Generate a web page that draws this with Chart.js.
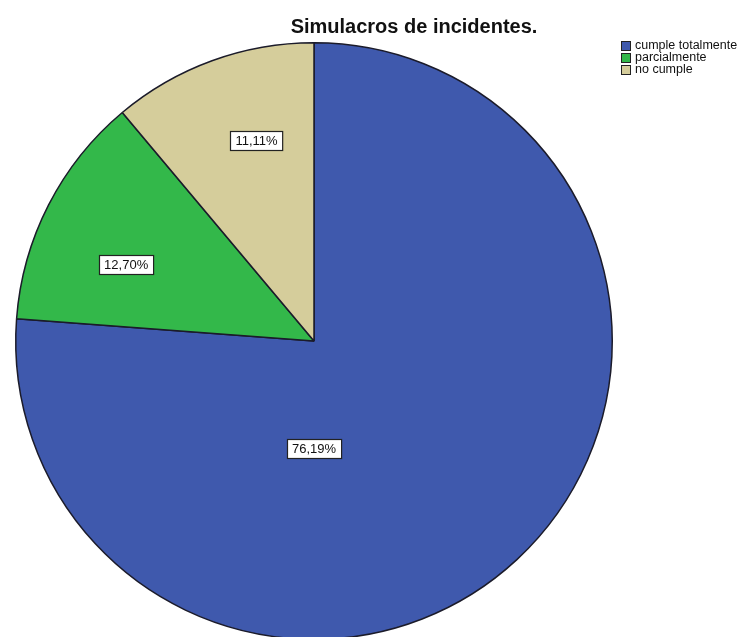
<!DOCTYPE html>
<html>
<head>
<meta charset="utf-8">
<script src="https://cdn.jsdelivr.net/npm/chart.js@4.4.1/dist/chart.umd.min.js"></script>
<style>
  html, body { margin: 0; padding: 0; background: #ffffff; overflow: hidden; }
  #wrap { position: relative; width: 750px; height: 650px; }
</style>
</head>
<body>
<div id="wrap"><canvas id="chart" width="750" height="650"></canvas></div>
<script>
// Survey answers for "Simulacros de incidentes."
const chartTitle = 'Simulacros de incidentes.';
const categories = ['cumple totalmente', 'parcialmente', 'no cumple'];
const percentages = [76.19, 12.70, 11.11];
const sliceColors = ['#3f59ad', '#33b84a', '#d5cd9b'];

const fmtPct = v => v.toFixed(2).replace('.', ',') + '%';

// Title and legend drawn on the canvas next to the pie
const titleLegendPlugin = {
  id: 'titleLegend',
  afterDraw(chart, args, opts) {
    const ctx = chart.ctx;
    ctx.save();
    ctx.fillStyle = '#111';
    ctx.font = 'bold 20px "Liberation Sans", Arial, sans-serif';
    ctx.textAlign = 'center';
    ctx.textBaseline = 'alphabetic';
    ctx.fillText(opts.text, opts.titleX, opts.titleY);

    ctx.font = '12.5px "Liberation Sans", Arial, sans-serif';
    ctx.textAlign = 'left';
    ctx.textBaseline = 'middle';
    const ds = chart.data.datasets[0];
    chart.data.labels.forEach((lab, i) => {
      const y = opts.legendY + i * opts.legendStep;
      ctx.fillStyle = ds.backgroundColor[i];
      ctx.fillRect(opts.legendX, y, opts.box, opts.box);
      ctx.strokeStyle = '#222';
      ctx.lineWidth = 1;
      ctx.strokeRect(opts.legendX + 0.5, y + 0.5, opts.box - 1, opts.box - 1);
      ctx.fillStyle = '#111';
      ctx.fillText(lab, opts.legendX + opts.box + 4, y + opts.box / 2);
    });
    ctx.restore();
  }
};

// Boxed percentage labels placed inside each slice
const sliceLabelPlugin = {
  id: 'sliceLabels',
  afterDatasetsDraw(chart, args, opts) {
    const ctx = chart.ctx;
    const meta = chart.getDatasetMeta(0);
    ctx.save();
    ctx.font = '13px "Liberation Sans", Arial, sans-serif';
    ctx.textAlign = 'center';
    ctx.textBaseline = 'middle';
    meta.data.forEach((arc, i) => {
      const p = opts.placement[i];
      const mid = (arc.startAngle + arc.endAngle) / 2;
      const ang = p.angle !== undefined ? (p.angle - 90) * Math.PI / 180 : mid + (p.shift || 0) * Math.PI / 180;
      const r = arc.outerRadius * p.dist;
      const x = arc.x + Math.cos(ang) * r;
      const y = arc.y + Math.sin(ang) * r;
      const txt = fmtPct(chart.data.datasets[0].data[i]);
      const w = ctx.measureText(txt).width + 10;
      const h = 19;
      const bx = Math.round(x - w / 2) + 0.5, by = Math.round(y - h / 2) + 0.5;
      ctx.fillStyle = '#ffffff';
      ctx.fillRect(bx, by, w, h);
      ctx.strokeStyle = '#222';
      ctx.lineWidth = 1.2;
      ctx.strokeRect(bx, by, w, h);
      ctx.fillStyle = '#111';
      ctx.fillText(txt, x, y + 1);
    });
    ctx.restore();
  }
};

new Chart(document.getElementById('chart'), {
  type: 'pie',
  data: {
    labels: categories,
    datasets: [{
      data: percentages,
      backgroundColor: sliceColors,
      borderColor: '#1b1b2a',
      borderWidth: 1.5
    }]
  },
  options: {
    responsive: false,
    animation: false,
    devicePixelRatio: 1,
    rotation: 0,
    layout: { padding: { left: 15, top: 42, right: 137, bottom: 10 } },
    plugins: {
      legend: { display: false },
      title: { display: false },
      tooltip: { enabled: false },
      titleLegend: {
        text: chartTitle,
        titleX: 414, titleY: 33,
        legendX: 621, legendY: 41, legendStep: 12, box: 10
      },
      sliceLabels: {
        placement: [
          { angle: 180, dist: 0.36 },
          { shift: -5, dist: 0.68 },
          { shift: 4, dist: 0.70 }
        ]
      }
    }
  },
  plugins: [sliceLabelPlugin, titleLegendPlugin]
});
</script>
</body>
</html>
